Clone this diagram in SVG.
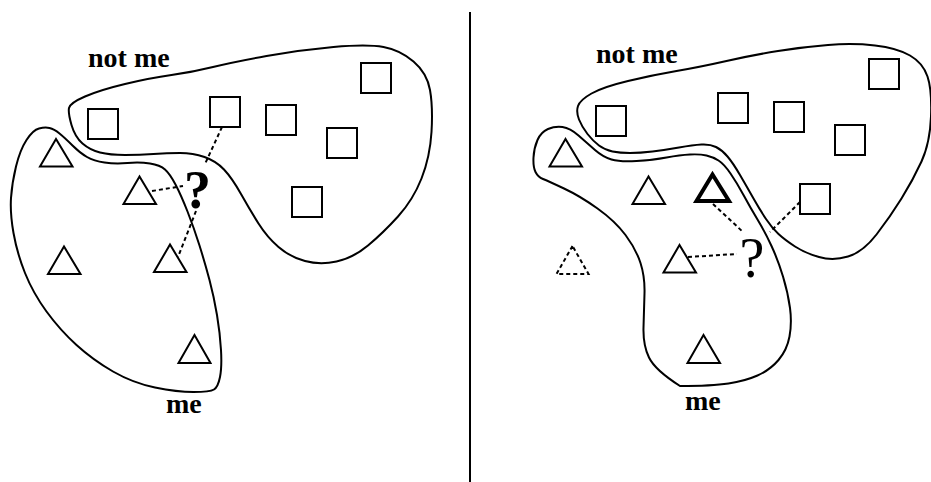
<svg xmlns="http://www.w3.org/2000/svg" width="931" height="482" viewBox="0 0 931 482">
<style>
.blob{fill:none;stroke:#000;stroke-width:2}
.sq{fill:none;stroke:#000;stroke-width:2}
.tri{fill:none;stroke:#000;stroke-width:2;stroke-linejoin:miter}
.bold{stroke-width:4}
.dtri{stroke-dasharray:4 3}
.dash{fill:none;stroke:#000;stroke-width:2;stroke-dasharray:4 3}
.lbl{font-family:"Liberation Serif",serif;font-weight:bold;font-size:28px;fill:#000}
.q{font-family:"Liberation Serif",serif;fill:#000;text-anchor:middle}
</style>
<rect width="931" height="482" fill="#fff"/>
<line id="divider" x1="470" y1="12" x2="470" y2="482" stroke="#000" stroke-width="2"/>

<!-- Left panel -->
<g id="left-notme-region">
<path class="blob" d="M71.5,125 Q68,113 69,108 Q70,103 85,96.5 Q100,90 125,84 Q150,78 171.5,75 Q193,72 213,67 Q233,62 266.5,56 Q300,50 333.5,47 Q367,44 383.5,47 Q400,50 413.5,61.5 Q427,73 430,90 Q433,107 431.5,132 Q430,157 421.5,178.5 Q413,200 398,216.5 Q383,233 368,245.5 Q353,258 336.5,261.5 Q320,265 305,261 Q290,257 278.5,247 Q267,237 258.5,223.5 Q250,210 241,194 Q232,178 224,169.5 Q216,161 204.5,157 Q193,153 180,153 Q167,153 153.5,154 Q140,155 125,155 Q110,155 100,152.5 Q90,150 82.5,143.5 Q75,137 71.5,125 Z"/>
<text class="lbl" x="88" y="67">not me</text>
</g>
<g id="left-me-region">
<path class="blob" d="M49.5,128 Q45,127 39,128.5 Q33,130 26.5,140 Q20,150 16,166.5 Q12,183 11,198 Q10,213 13.5,233 Q17,253 25,273 Q33,293 46.5,311.5 Q60,330 76.5,345 Q93,360 113,371.5 Q133,383 155,387.5 Q177,392 193.5,392 Q210,392 214,389.5 Q218,387 220,377 Q222,367 221,350 Q220,333 217,315 Q214,297 209.5,280 Q205,263 199.5,245.5 Q194,228 187.5,211.5 Q181,195 175.5,184.5 Q170,174 165,169.5 Q160,165 150,163.5 Q140,162 127.5,163 Q115,164 104.5,162.5 Q94,161 87,157 Q80,153 72.5,145.5 Q65,138 59.5,133.5 Q54,129 49.5,128 Z"/>
<text class="lbl" x="166" y="413">me</text>
</g>
<g id="left-squares">
<rect id="ls1" class="sq" x="88" y="109" width="30" height="30"/>
<rect id="ls2" class="sq" x="210" y="97" width="30" height="30"/>
<rect id="ls3" class="sq" x="266" y="105" width="30" height="30"/>
<rect id="ls4" class="sq" x="361" y="63" width="30" height="30"/>
<rect id="ls5" class="sq" x="327" y="128" width="30" height="30"/>
<rect id="ls6" class="sq" x="292" y="187" width="30" height="30"/>
</g>
<g id="left-triangles">
<polygon id="lt1" class="tri" points="56,139 40,166.5 72.5,166.5"/>
<polygon id="lt2" class="tri" points="139.5,176.5 123.5,204 156,204"/>
<polygon id="lt3" class="tri" points="64,246.5 48,274 80.5,274"/>
<polygon id="lt4" class="tri" points="170,244.5 154,272 186.5,272"/>
<polygon id="lt5" class="tri" points="194.5,335 178.5,363 210.5,363"/>
</g>
<g id="left-query">
<text class="q" x="197.5" y="208" font-size="54" font-weight="bold">?</text>
</g>

<!-- Right panel -->
<g id="right-notme-region">
<path class="blob" d="M579,119.5 Q576,112 578,106 Q580,100 591.5,93.5 Q603,87 628,81 Q653,75 676.5,71 Q700,67 726.5,61 Q753,55 778,51 Q803,47 828,45 Q853,43 875,45.5 Q897,48 910,55.5 Q923,63 927.5,76.5 Q932,90 931,116.5 Q930,143 921.5,161.5 Q913,180 901.5,198.5 Q890,217 876.5,234.5 Q863,252 848,256.5 Q833,261 819,257 Q805,253 795,246.5 Q785,240 778.5,234 Q772,228 766,219 Q760,210 753.5,198.5 Q747,187 740,175 Q733,163 727.5,156.5 Q722,150 716,147 Q710,144 701.5,144.5 Q693,145 679,147.5 Q665,150 652.5,151.5 Q640,153 630,153 Q620,153 612.5,151.5 Q605,150 599,145.5 Q593,141 587.5,134 Q582,127 579,119.5 Z"/>
<text class="lbl" x="596" y="63">not me</text>
</g>
<g id="right-me-region">
<path class="blob" d="M562.5,127 Q555,126 548,129 Q541,132 537.5,140 Q534,148 533.5,157.5 Q533,167 535.5,172 Q538,177 543,179 Q548,181 564,188.5 Q580,196 597.5,208.5 Q615,221 625.5,235 Q636,249 640.5,263 Q645,277 644.5,293.5 Q644,310 643.5,327.5 Q643,345 649,357.5 Q655,370 680,386 Q712,386 728.5,383.5 Q745,381 757.5,375.5 Q770,370 778.5,360 Q787,350 789.5,336.5 Q792,323 790,308 Q788,293 783,276.5 Q778,260 771.5,246 Q765,232 757.5,219.5 Q750,207 743.5,195 Q737,183 730.5,173.5 Q724,164 718.5,160.5 Q713,157 706.5,155.5 Q700,154 690,154.5 Q680,155 666.5,157.5 Q653,160 636.5,161 Q620,162 611.5,159.5 Q603,157 595,150 Q587,143 578.5,135.5 Q570,128 562.5,127 Z"/>
<text class="lbl" x="685" y="410">me</text>
</g>
<g id="right-squares">
<rect id="rs1" class="sq" x="596" y="106" width="30" height="30"/>
<rect id="rs2" class="sq" x="718" y="93" width="30" height="30"/>
<rect id="rs3" class="sq" x="774" y="102" width="30" height="30"/>
<rect id="rs4" class="sq" x="869" y="59" width="30" height="30"/>
<rect id="rs5" class="sq" x="835" y="125" width="30" height="30"/>
<rect id="rs6" class="sq" x="800" y="184" width="30" height="30"/>
</g>
<g id="right-triangles">
<polygon id="rt1" class="tri" points="565.5,139 549.5,166.5 582,166.5"/>
<polygon id="rt2" class="tri" points="648.5,176.5 632.5,204 665,204"/>
<polygon id="rt3" class="tri bold" points="712.5,174.5 696.5,201 729,201"/>
<polygon id="rt4" class="tri" points="679.5,245 663.5,272.5 696,272.5"/>
<polygon id="rt5" class="tri" points="703.5,335 687.5,363 720,363"/>
<polygon id="rt6" class="tri dtri" points="572.5,246 556.5,274 588.5,274"/>
</g>
<g id="right-query">
<text class="q" x="752" y="277" font-size="56">?</text>
</g>

<g id="connectors">
<line class="dash" x1="152" y1="191" x2="183" y2="186"/>
<line class="dash" x1="222" y1="127" x2="205" y2="164"/>
<line class="dash" x1="196" y1="211" x2="178" y2="257"/>
<line class="dash" x1="713" y1="204" x2="743" y2="232"/>
<line class="dash" x1="688" y1="257" x2="737" y2="254"/>
<line class="dash" x1="800" y1="202" x2="770" y2="232"/>
</g>
</svg>
